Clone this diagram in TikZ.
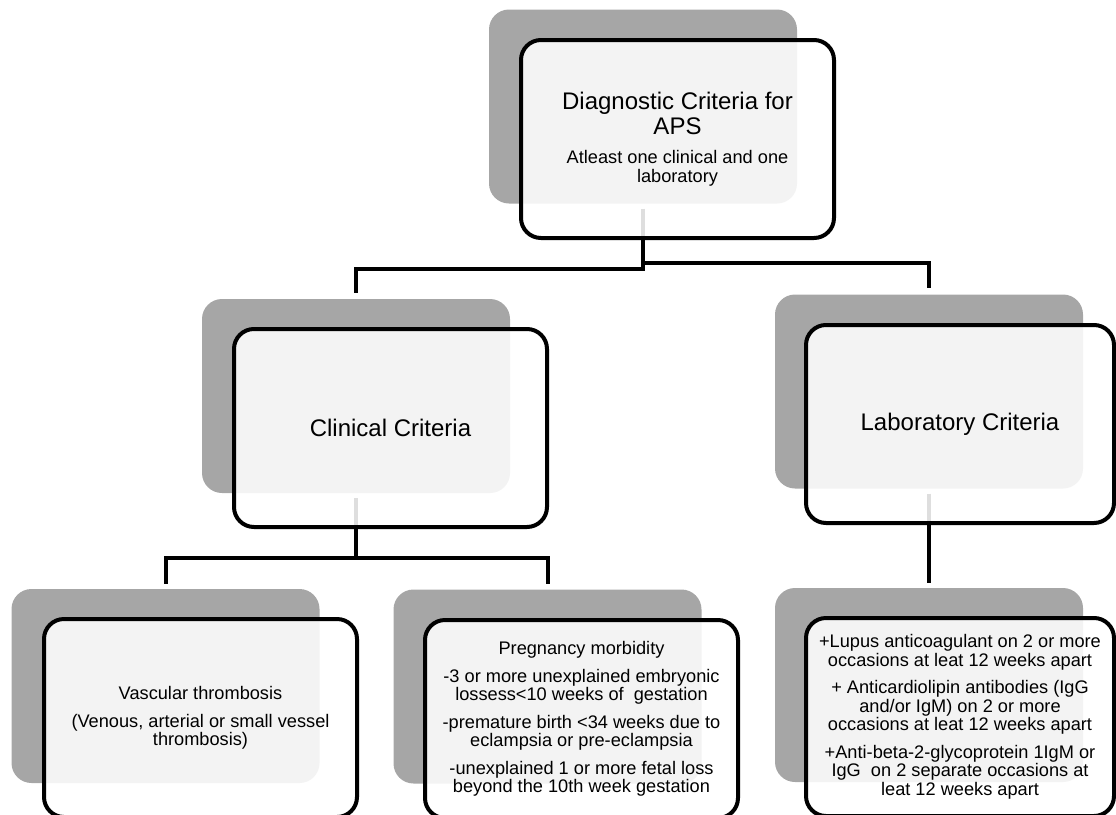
\documentclass[tikz,border=0pt]{standalone}
\usepackage{fontspec}
\setmainfont{Liberation Sans}
\usetikzlibrary{calc}
\definecolor{shade}{HTML}{A6A6A6}
\newcommand{\TitleFont}{\fontsize{24}{25}\selectfont}
\newcommand{\BodyFont}{\fontsize{18.2}{18.5}\selectfont}
\newcommand{\pgap}{\par\vspace{9pt}}
\tikzset{
 back/.style={rectangle, rounded corners=20pt, fill=shade, minimum width=308pt, minimum height=194pt, inner sep=0pt},
 front/.style={rectangle, rounded corners=20pt, draw=black, line width=4pt, fill=white, fill opacity=0.87, draw opacity=1, text opacity=1, minimum width=313pt, minimum height=198pt, inner sep=0pt, text width=306pt, align=flush center},
 conn/.style={draw=black, line width=4pt},
}
\begin{document}
\begin{tikzpicture}[x=1pt,y=-1pt]
\useasboundingbox (0,0) rectangle (1116,814);
\clip (0,0) rectangle (1116,814);
% background shadow boxes
\node[back] (g1) at (643,106.5) {};
\node[back] (g2) at (356,396) {};
\node[back] (g3) at (929,391.5) {};
\node[back] (g4) at (165.5,686) {};
\node[back] (g5) at (547.5,686.5) {};
\node[back] (g6) at (929,685) {};
% connectors
\draw[conn] ($(g1.south)+(0,5)$) -- ++(0,60) -| ($(g2.north)+(0,-6)$);
\draw[conn] ($(g1.south)+(0,59.5)$) -| ($(g3.north)+(0,-6)$);
\draw[conn] ($(g2.south)+(0,5)$) -- ++(0,60) -| ($(g4.north)+(0,-5)$);
\draw[conn] ($(g2.south)+(0,65)$) -| ($(g5.north)+(0,-5)$);
\draw[conn] ($(g3.south)+(0,5)$) -- ($(g6.north)+(0,-5)$);
% front boxes
\node[front] (w1) at (677.5,139) {\TitleFont Diagnostic Criteria for\\APS\par\vspace{11pt}\BodyFont Atleast one clinical and one\\laboratory\par};
\node[front] (w2) at (390.5,428) {\TitleFont Clinical Criteria\par};
\node[front, minimum width=308pt] (w3) at (960,424) {\TitleFont Laboratory Criteria\par};
\node[front] (w4) at (200.5,718) {\BodyFont Vascular thrombosis\pgap (Venous, arterial or small vessel\\thrombosis)\par};
\node[front] (w5) at (581.5,719) {\BodyFont Pregnancy morbidity\pgap -3 or more unexplained embryonic\\lossess<10 weeks of\ \ gestation\pgap -premature birth <34 weeks due to\\eclampsia or pre-eclampsia\pgap -unexplained 1 or more fetal loss\\beyond the 10th week gestation\par};
\node[front, minimum width=308pt] (w6) at (960,717) {\BodyFont +Lupus anticoagulant on 2 or more\\occasions at leat 12 weeks apart\pgap + Anticardiolipin antibodies (IgG\\and/or IgM) on 2 or more\\occasions at leat 12 weeks apart\pgap +Anti-beta-2-glycoprotein 1IgM or\\IgG\ \ on 2 separate occasions at\\leat 12 weeks apart\par};
\end{tikzpicture}
\end{document}
